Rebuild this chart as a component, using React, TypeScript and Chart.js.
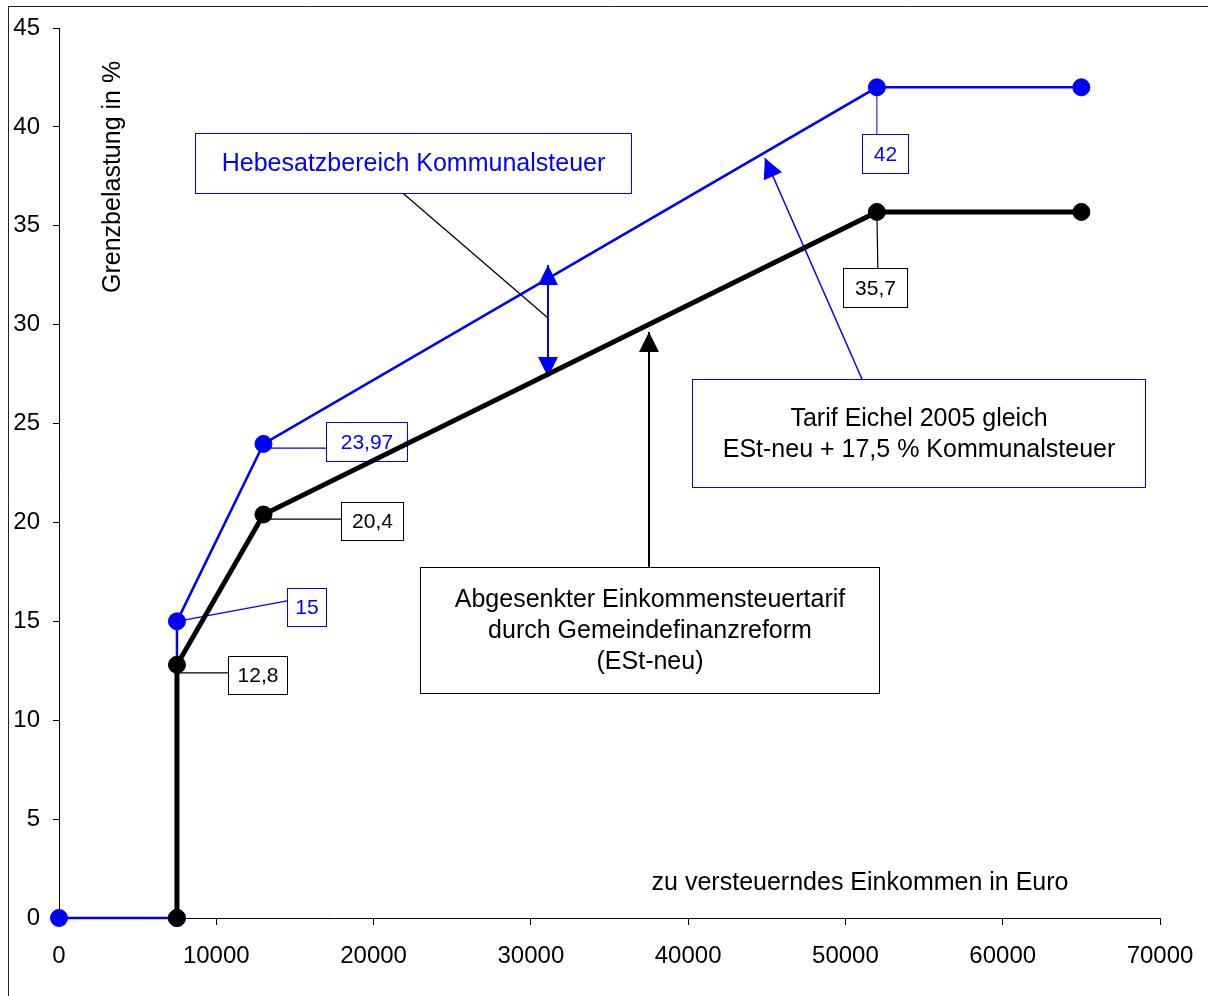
import React, { useEffect, useRef } from "react";
import { Chart, registerables } from "chart.js";

Chart.register(...registerables);

// ---- Data ----
const incomeBlue = [0, 7500, 7500, 13000, 52000, 65000];
const rateBlue = [0, 0, 15, 23.97, 42, 42];
const incomeBlack = [7500, 7500, 13000, 52000, 65000];
const rateBlack = [0, 12.8, 20.4, 35.7, 35.7];
const xTickValues = [0, 10000, 20000, 30000, 40000, 50000, 60000, 70000];
const yTickValues = [0, 5, 10, 15, 20, 25, 30, 35, 40, 45];

const yTitle = "Grenzbelastung in %";
const xTitle = "zu versteuerndes Einkommen in Euro";

const BLUE = "#0000FF";
const BLACK = "#000000";
const FONT = "'Liberation Sans', Arial, Helvetica, sans-serif";

// ---- Annotations (data units) ----
type Box = { x1: number; y1: number; x2: number; y2: number; stroke: string; color: string; size: number; lines: string[] };
const boxes: Box[] = [
  { x1: 8650, y1: 39.7, x2: 36370, y2: 36.65, stroke: BLUE, color: BLUE, size: 25, lines: ["Hebesatzbereich Kommunalsteuer"] },
  { x1: 40240, y1: 27.25, x2: 69040, y2: 21.79, stroke: BLUE, color: BLACK, size: 25, lines: ["Tarif Eichel 2005 gleich", "ESt-neu + 17,5 % Kommunalsteuer"] },
  { x1: 22950, y1: 17.75, x2: 52130, y2: 11.38, stroke: BLACK, color: BLACK, size: 25, lines: ["Abgesenkter Einkommensteuertarif", "durch Gemeindefinanzreform", "(ESt-neu)"] },
  { x1: 51050, y1: 39.64, x2: 53970, y2: 37.67, stroke: BLUE, color: BLUE, size: 21, lines: ["42"] },
  { x1: 49840, y1: 32.86, x2: 53910, y2: 30.89, stroke: BLACK, color: BLACK, size: 21, lines: ["35,7"] },
  { x1: 16970, y1: 25.08, x2: 22120, y2: 23.11, stroke: BLUE, color: BLUE, size: 21, lines: ["23,97"] },
  { x1: 17930, y1: 21.03, x2: 21870, y2: 19.11, stroke: BLACK, color: BLACK, size: 21, lines: ["20,4"] },
  { x1: 14500, y1: 16.69, x2: 16970, y2: 14.76, stroke: BLUE, color: BLUE, size: 21, lines: ["15"] },
  { x1: 10750, y1: 13.25, x2: 14500, y2: 11.33, stroke: BLACK, color: BLACK, size: 21, lines: ["12,8"] },
];

type Seg = { x1: number; y1: number; x2: number; y2: number; color: string; width: number; headStart?: boolean; headEnd?: boolean };
const segments: Seg[] = [
  // leaders of value labels
  { x1: 52000, y1: 42, x2: 52000, y2: 39.64, color: BLUE, width: 1 },
  { x1: 52000, y1: 35.7, x2: 52060, y2: 32.86, color: BLACK, width: 1.2 },
  { x1: 13000, y1: 23.76, x2: 16970, y2: 23.76, color: BLUE, width: 1.2 },
  { x1: 13000, y1: 20.17, x2: 17930, y2: 20.17, color: BLACK, width: 1.2 },
  { x1: 7500, y1: 15, x2: 14500, y2: 16.03, color: BLUE, width: 1.2 },
  { x1: 7500, y1: 12.39, x2: 10750, y2: 12.39, color: BLACK, width: 1.2 },
  // callout lines
  { x1: 21870, y1: 36.65, x2: 31090, y2: 30.34, color: BLACK, width: 1.3 },
  { x1: 31090, y1: 27.35, x2: 31090, y2: 33.02, color: BLUE, width: 2, headStart: true, headEnd: true },
  { x1: 37510, y1: 17.75, x2: 37510, y2: 29.63, color: BLACK, width: 2, headEnd: true },
  { x1: 51050, y1: 27.25, x2: 44880, y2: 38.43, color: BLUE, width: 1.5, headEnd: true },
];

const titles = [
  { text: yTitle, x: 3430, y: 37.47, rotate: true },
  { text: xTitle, x: 50930, y: 1.77, rotate: false },
];

function arrowHead(ctx: CanvasRenderingContext2D, fx: number, fy: number, tx: number, ty: number, color: string) {
  const ang = Math.atan2(ty - fy, tx - fx);
  const len = 20;
  const half = 10;
  const bx = tx - len * Math.cos(ang);
  const by = ty - len * Math.sin(ang);
  ctx.beginPath();
  ctx.moveTo(tx, ty);
  ctx.lineTo(bx + half * Math.sin(ang), by - half * Math.cos(ang));
  ctx.lineTo(bx - half * Math.sin(ang), by + half * Math.cos(ang));
  ctx.closePath();
  ctx.fillStyle = color;
  ctx.fill();
}

const annotationPlugin = {
  id: "annotations",
  beforeDraw(chart: any) {
    const ctx = chart.ctx as CanvasRenderingContext2D;
    ctx.save();
    ctx.fillStyle = "#ffffff";
    ctx.fillRect(0, 0, chart.width, chart.height);
    ctx.strokeStyle = "#222";
    ctx.lineWidth = 1;
    ctx.beginPath();
    ctx.moveTo(0.5, chart.height);
    ctx.lineTo(0.5, 0.5);
    ctx.lineTo(chart.width, 0.5);
    ctx.stroke();
    ctx.restore();
  },
  beforeDatasetsDraw(chart: any) {
    const ctx = chart.ctx as CanvasRenderingContext2D;
    const xs = chart.scales.x;
    const ys = chart.scales.y;
    const px = (v: number) => xs.getPixelForValue(v);
    const py = (v: number) => ys.getPixelForValue(v);
    ctx.save();
    for (const b of boxes) {
      const l = Math.round(px(b.x1)) + 0.5;
      const r = Math.round(px(b.x2)) + 0.5;
      const t = Math.round(py(b.y1)) + 0.5;
      const bt = Math.round(py(b.y2)) + 0.5;
      ctx.strokeStyle = b.stroke;
      ctx.lineWidth = 1;
      ctx.strokeRect(l, t, r - l, bt - t);
      ctx.fillStyle = b.color;
      ctx.font = `${b.size}px ${FONT}`;
      ctx.textAlign = "center";
      ctx.textBaseline = "middle";
      const cx = (l + r) / 2;
      const cy = (t + bt) / 2;
      const spacing = 31;
      b.lines.forEach((line, i) => {
        const y = cy + (i - (b.lines.length - 1) / 2) * spacing;
        ctx.fillText(line, cx, y + 1);
      });
    }
    for (const s of segments) {
      const x1 = px(s.x1), y1 = py(s.y1), x2 = px(s.x2), y2 = py(s.y2);
      ctx.strokeStyle = s.color;
      ctx.lineWidth = s.width;
      ctx.beginPath();
      ctx.moveTo(x1, y1);
      ctx.lineTo(x2, y2);
      ctx.stroke();
      if (s.headEnd) arrowHead(ctx, x1, y1, x2, y2, s.color);
      if (s.headStart) arrowHead(ctx, x2, y2, x1, y1, s.color);
    }
    ctx.fillStyle = BLACK;
    ctx.font = `25px ${FONT}`;
    ctx.textAlign = "center";
    ctx.textBaseline = "middle";
    for (const t of titles) {
      const x = px(t.x), y = py(t.y);
      if (t.rotate) {
        ctx.save();
        ctx.translate(x, y);
        ctx.rotate(-Math.PI / 2);
        ctx.fillText(t.text, 0, 0);
        ctx.restore();
      } else {
        ctx.fillText(t.text, x, y);
      }
    }
    ctx.restore();
  },
};

function zeroPadding(s: any) {
  s.paddingLeft = 0;
  s.paddingRight = 0;
  s.paddingTop = 0;
  s.paddingBottom = 0;
}

export default function App() {
  const ref = useRef<HTMLCanvasElement | null>(null);
  useEffect(() => {
    if (!ref.current) return;
    const chart = new Chart(ref.current, {
      type: "line",
      data: {
        datasets: [
          {
            label: "ESt-neu",
            data: incomeBlack.map((x, i) => ({ x, y: rateBlack[i] })),
            borderColor: BLACK,
            backgroundColor: BLACK,
            borderWidth: 5,
            pointRadius: 8.5,
            pointBorderWidth: 1,
            pointBorderColor: BLACK,
            pointBackgroundColor: BLACK,
            tension: 0,
            fill: false,
            clip: false as any,
            order: 0,
          },
          {
            label: "Tarif Eichel 2005",
            data: incomeBlue.map((x, i) => ({ x, y: rateBlue[i] })),
            borderColor: BLUE,
            backgroundColor: BLUE,
            borderWidth: 2.5,
            pointRadius: 8.5,
            pointBorderWidth: 1,
            pointBorderColor: BLUE,
            pointBackgroundColor: BLUE,
            tension: 0,
            fill: false,
            clip: false as any,
            order: 1,
          },
        ],
      },
      options: {
        animation: false,
        responsive: false,
        devicePixelRatio: 1,
        layout: { padding: { left: 0, top: 22, right: 48, bottom: 28 } },
        plugins: { legend: { display: false }, tooltip: { enabled: false } },
        scales: {
          x: {
            type: "linear",
            min: 0,
            max: 70000,
            afterBuildTicks: (s: any) => {
              s.ticks = xTickValues.map((v) => ({ value: v }));
            },
            afterFit: (s: any) => {
              s.height = 50;
              zeroPadding(s);
            },
            ticks: {
              color: BLACK,
              font: { size: 24, family: FONT },
              padding: 17,
              maxRotation: 0,
              autoSkip: false,
              callback: (v: any) => String(v),
            },
            grid: { drawOnChartArea: false, drawTicks: true, tickLength: 7, color: BLACK, lineWidth: 1 },
            border: { display: true, color: BLACK, width: 1 },
          },
          y: {
            type: "linear",
            min: 0,
            max: 45,
            afterBuildTicks: (s: any) => {
              s.ticks = yTickValues.map((v) => ({ value: v }));
            },
            afterFit: (s: any) => {
              s.width = 51;
              zeroPadding(s);
            },
            ticks: {
              color: BLACK,
              font: { size: 24, family: FONT },
              padding: 13,
              autoSkip: false,
              callback: (v: any) => String(v),
            },
            grid: { drawOnChartArea: false, drawTicks: true, tickLength: 6, color: BLACK, lineWidth: 1 },
            border: { display: true, color: BLACK, width: 1 },
          },
        },
      },
      plugins: [annotationPlugin],
    });
    return () => chart.destroy();
  }, []);
  return (
    <div style={{ position: "fixed", left: 8, top: 6, width: 1200, height: 990 }}>
      <canvas ref={ref} width={1200} height={990} style={{ display: "block", width: 1200, height: 990 }} />
    </div>
  );
}
